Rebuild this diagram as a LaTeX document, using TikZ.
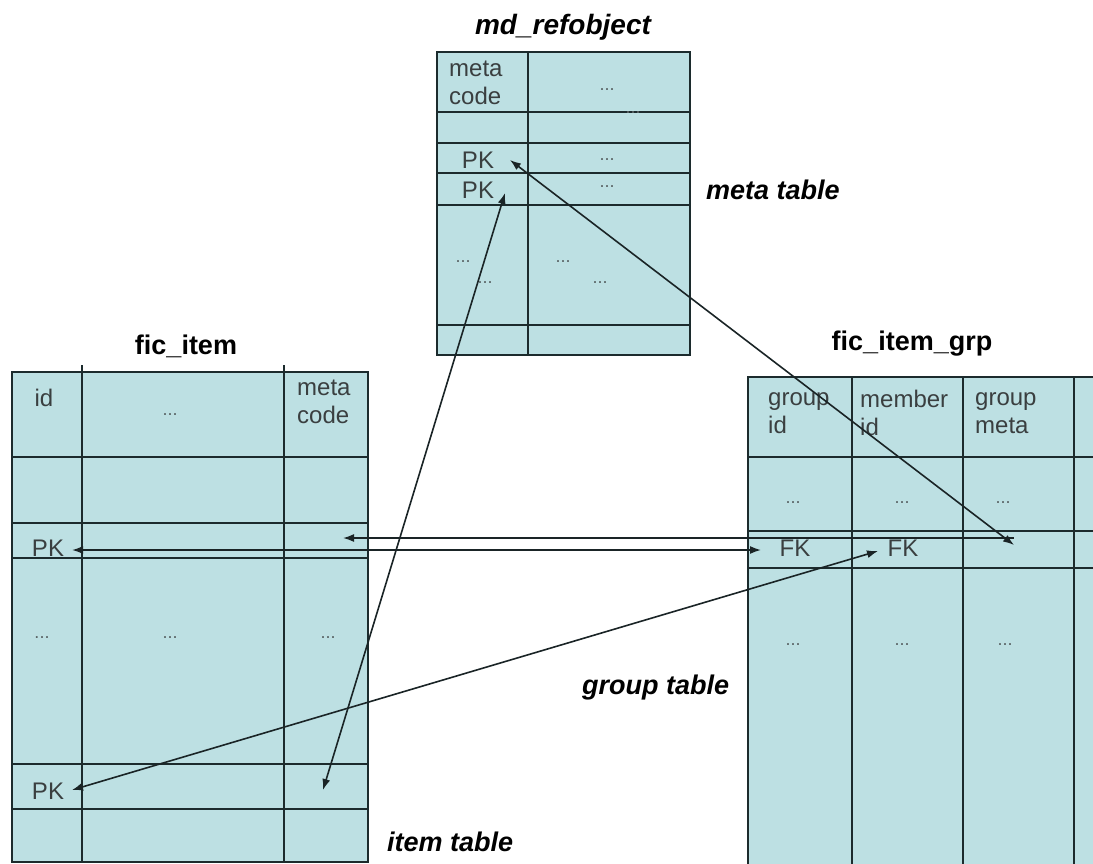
\documentclass[tikz,border=0pt]{standalone}
\usepackage{fontspec}
\setmainfont{Liberation Sans}
\usetikzlibrary{arrows.meta}
\definecolor{cellfill}{HTML}{BDE0E3}
\definecolor{gridline}{HTML}{1C2B2D}
\definecolor{celltext}{HTML}{3A3F40}
\definecolor{dotgray}{HTML}{5A6466}
\definecolor{arrowcol}{HTML}{1A2426}
\tikzset{
  tblfill/.style={fill=cellfill, draw=none},
  gridl/.style={draw=gridline, line width=1.6pt},
  celltxt/.style={font=\fontsize{24}{28}\selectfont, text=celltext, inner sep=0pt, align=left},
  dots/.style={font=\fontsize{18}{18}\selectfont, text=dotgray, inner sep=0pt},
  ttl/.style={font=\fontsize{27}{30}\selectfont\bfseries, inner sep=0pt},
  ittl/.style={font=\fontsize{28}{30}\selectfont\bfseries\itshape, inner sep=0pt},
  lbl/.style={font=\fontsize{27}{30}\selectfont\bfseries\itshape, inner sep=0pt, anchor=west},
  link/.style={draw=arrowcol, line width=1.6pt},
  tip/.tip={Latex[length=11pt,width=8pt]}
}
\begin{document}
\begin{tikzpicture}[x=1pt,y=-1pt]
\useasboundingbox (0,0) rectangle (1093,864);

% ---------- md_refobject ----------
\fill[tblfill] (437,52) rectangle (690,355);
\draw[gridl] (437,52) rectangle (690,355);
\draw[gridl] (528,52) -- (528,355);
\foreach \y in {112,143,173,205,325} \draw[gridl] (437,\y) -- (690,\y);
\node[ittl] (mdtitle) at (563,27) {md\_refobject};
\node[celltxt, anchor=west] (mdmeta) at (449,83) {meta\\code};
\node[dots] (md1) at (607,90) {...};
\node[dots] (md2) at (633,113) {...};
\node[celltxt] (mdpk1) at (478,160) {PK};
\node[dots] (md3) at (607,160) {...};
\node[celltxt] (mdpk2) at (478,190) {PK};
\node[dots] (md4) at (607,187) {...};
\node[dots] (md5) at (463,262) {...};
\node[dots] (md6) at (485,283) {...};
\node[dots] (md7) at (563,262) {...};
\node[dots] (md8) at (600,283) {...};
\node[lbl] (metalbl) at (706,190) {meta table};

% ---------- fic_item ----------
\fill[tblfill] (12,372) rectangle (368,862);
\draw[gridl] (12,372) rectangle (368,862);
\draw[gridl] (82,365) -- (82,862);
\draw[gridl] (284,365) -- (284,862);
\foreach \y in {457,523,558,764,809} \draw[gridl] (12,\y) -- (368,\y);
\node[ttl] (fititle) at (186,346) {fic\_item};
\node[celltxt] (fiid) at (44,398) {id};
\node[dots] (fi1) at (170,415) {...};
\node[celltxt, anchor=west] (fimeta) at (297,402) {meta\\code};
\node[celltxt] (fipk1) at (48,548) {PK};
\node[dots] (fi2) at (42,638) {...};
\node[dots] (fi3) at (170,638) {...};
\node[dots] (fi4) at (328,638) {...};
\node[celltxt] (fipk2) at (48,791) {PK};
\node[lbl] (itemlbl) at (387,842) {item table};

% ---------- fic_item_grp ----------
\fill[tblfill] (748,377) rectangle (1093,864);
\draw[gridl] (748,864) -- (748,377) -- (1093,377);
\foreach \x in {852,963,1074} \draw[gridl] (\x,377) -- (\x,864);
\foreach \y in {457,531,568} \draw[gridl] (748,\y) -- (1093,\y);
\node[ttl] (grtitle) at (912,344) {fic\_item\_grp};
\node[celltxt, anchor=west] (grgid) at (768,413) {group\\id};
\node[celltxt, anchor=west] (grmid) at (860,413) {member\\id};
\node[celltxt, anchor=west] (grgm) at (975,413) {group\\meta};
\node[dots] (gr1) at (793,503) {...};
\node[dots] (gr2) at (902,503) {...};
\node[dots] (gr3) at (1003,503) {...};
\node[celltxt] (grfk1) at (795,548) {FK};
\node[celltxt] (grfk2) at (903,548) {FK};
\node[dots] (gr4) at (793,645) {...};
\node[dots] (gr5) at (902,645) {...};
\node[dots] (gr6) at (1005,645) {...};
\node[lbl] (grouplbl) at (582,688) {group table};

% ---------- connector end points ----------
\coordinate (mdPKa) at (510,160);
\coordinate (mdPKb) at (505,193);
\coordinate (grMeta) at (1014,545);
\coordinate (grMetaRow) at (1014,538);
\coordinate (fiMetaBot) at (323,790);
\coordinate (fiMetaRow) at (343,538);
\coordinate (fiPKa) at (72,550);
\coordinate (grFKa) at (761,550);
\coordinate (fiPKb) at (72,790);
\coordinate (grFKb) at (878,551);

% ---------- connectors ----------
\draw[link, {tip}-{tip}] (mdPKa) -- (grMeta);
\draw[link, {tip}-{tip}] (mdPKb) -- (fiMetaBot);
\draw[link, {tip}-{tip}] (fiPKa) -- (grFKa);
\draw[link, {tip}-] (fiMetaRow) -- (grMetaRow);
\draw[link, {tip}-{tip}] (fiPKb) -- (grFKb);
\end{tikzpicture}
\end{document}
